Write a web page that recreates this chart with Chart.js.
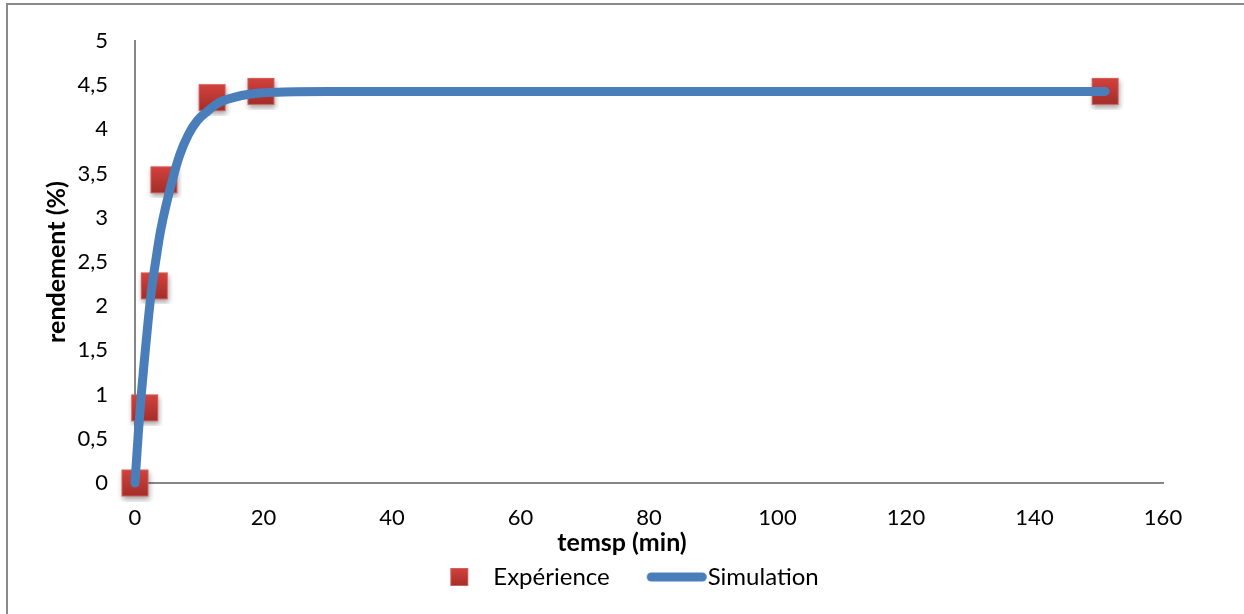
<!DOCTYPE html>
<html lang="fr">
<head>
  <meta charset="UTF-8">
  <title>Rendement en fonction du temps</title>
  <script src="https://cdn.jsdelivr.net/npm/chart.js"></script>
  <style>
    html, body { margin: 0; padding: 0; background: #fff; }
    #wrap { position: relative; width: 1244px; height: 614px; }
    #frame { position: absolute; left: 6px; top: 3px; right: 0; bottom: 0;
             border-left: 2px solid #8a8a8a; border-top: 2px solid #8a8a8a; pointer-events: none; }
  </style>
</head>
<body>
  <div id="wrap">
    <canvas id="rendChart" width="1244" height="614"></canvas>
    <div id="frame"></div>
  </div>

  <script>
    // points expérimentaux
    const tempsExp = [0, 1.5, 3, 4.5, 12, 19.6, 151];
    const rendExp = [0, 0.85, 2.23, 3.43, 4.36, 4.43, 4.43];

    // courbe simulée
    const tempsSim = [0, 0.5, 1, 1.5, 2, 2.6, 3.2, 4, 5.9, 7, 8.3, 9.7, 11.2, 13, 15.3, 18, 21.5, 30, 151];
    const rendSim = [0, 0.55, 1.02, 1.42, 1.8, 2.2, 2.5, 2.86, 3.45, 3.72, 3.94, 4.1, 4.2, 4.3, 4.36, 4.4, 4.42, 4.43, 4.43];

    const legendLabels = ['Expérience', 'Simulation'];
    const xTitle = 'temsp (min)';
    const yTitle = 'rendement (%)';

    const FONT = 'Lato';

    // marqueur carré rouge avec dégradé
    function squareMarker(size, withShadow) {
      const pad = withShadow ? 5 : 0;
      const c = document.createElement('canvas');
      c.width = size + pad * 2;
      c.height = size + pad * 2;
      const g = c.getContext('2d');
      const grad = g.createLinearGradient(0, pad, 0, pad + size);
      grad.addColorStop(0, '#d4423d');
      grad.addColorStop(1, '#a22e2a');
      if (withShadow) {
        g.shadowColor = 'rgba(0,0,0,0.35)';
        g.shadowBlur = 5;
        g.shadowOffsetX = 1;
        g.shadowOffsetY = 3;
      }
      g.fillStyle = grad;
      g.fillRect(pad, pad, size, size);
      g.shadowColor = 'transparent';
      g.strokeStyle = '#d2605b';
      g.lineWidth = 1;
      g.strokeRect(pad + 0.5, pad + 0.5, size - 1, size - 1);
      return c;
    }

    // symboles de légende (boîte de 76 px, dessin décalé dans l'image)
    function legendSquare() {
      const c = document.createElement('canvas');
      c.width = 60; c.height = 20;
      const g = c.getContext('2d');
      g.drawImage(squareMarker(18, false), 37, 1);
      return c;
    }
    function legendLine() {
      const c = document.createElement('canvas');
      c.width = 100; c.height = 12;
      const g = c.getContext('2d');
      g.strokeStyle = '#4a7ebb';
      g.lineWidth = 9;
      g.lineCap = 'round';
      g.beginPath();
      g.moveTo(43.5, 6);
      g.lineTo(94.5, 6);
      g.stroke();
      return c;
    }

    // titre de l'axe x centré sur toute la largeur (comme dans Excel)
    const xTitlePlugin = {
      id: 'xTitle',
      afterDraw(chart) {
        const c = chart.ctx;
        c.save();
        c.font = 'bold 25px ' + FONT;
        c.fillStyle = '#000';
        c.textAlign = 'center';
        c.textBaseline = 'middle';
        c.fillText(xTitle, chart.width / 2, chart.scales.x.bottom - 12);
        c.restore();
      }
    };

    const expData = tempsExp.map((t, i) => ({ x: t, y: rendExp[i] }));
    const simData = tempsSim.map((t, i) => ({ x: t, y: rendSim[i] }));

    const fmt = v => String(v).replace('.', ',');

    const ctx = document.getElementById('rendChart').getContext('2d');
    new Chart(ctx, {
      type: 'scatter',
      data: {
        datasets: [{
          label: legendLabels[0],
          data: expData,
          pointStyle: squareMarker(27, true),
          pointRadius: 14,
          clip: false,
          order: 1
        }, {
          label: legendLabels[1],
          data: simData,
          showLine: true,
          borderColor: '#4a7ebb',
          borderWidth: 9,
          borderCapStyle: 'round',
          borderJoinStyle: 'round',
          cubicInterpolationMode: 'monotone',
          pointRadius: 0,
          clip: false,
          order: 0
        }]
      },
      options: {
        responsive: false,
        animation: false,
        layout: {
          autoPadding: false,
          padding: { left: 0, right: 20, top: 41, bottom: 15 }
        },
        plugins: {
          tooltip: { enabled: false },
          legend: {
            position: 'bottom',
            labels: {
              usePointStyle: true,
              pointStyleWidth: 76,
              padding: 10,
              color: '#000',
              font: { family: FONT, size: 24 },
              generateLabels: () => [
                { text: legendLabels[0], pointStyle: legendSquare(), fontColor: '#000', datasetIndex: 0 },
                { text: legendLabels[1], pointStyle: legendLine(), fontColor: '#000', datasetIndex: 1 }
              ]
            }
          }
        },
        scales: {
          x: {
            type: 'linear',
            min: 0,
            max: 160,
            grid: { display: false, drawTicks: false },
            border: { display: true, color: '#868686', width: 2 },
            ticks: {
              stepSize: 20,
              padding: 22,
              color: '#000',
              font: { family: FONT, size: 22 },
              callback: v => fmt(v)
            },
            afterFit: s => { s.height = 72; }
          },
          y: {
            min: 0,
            max: 5,
            grid: { display: false, drawTicks: false },
            border: { display: true, color: '#868686', width: 2 },
            ticks: {
              stepSize: 0.5,
              padding: 27,
              color: '#000',
              font: { family: FONT, size: 22 },
              callback: v => fmt(v)
            },
            title: {
              display: true,
              text: yTitle,
              color: '#000',
              font: { family: FONT, size: 25, weight: 'bold', lineHeight: 1 },
              padding: { top: 44, bottom: 0 }
            },
            afterFit: s => { s.width = 135; }
          },
          yRight: {
            position: 'right',
            display: true,
            grid: { display: false, drawTicks: false },
            border: { display: false },
            ticks: { display: false },
            afterFit: s => { s.width = 61; }
          }
        }
      },
      plugins: [xTitlePlugin]
    });
  </script>
</body>
</html>
